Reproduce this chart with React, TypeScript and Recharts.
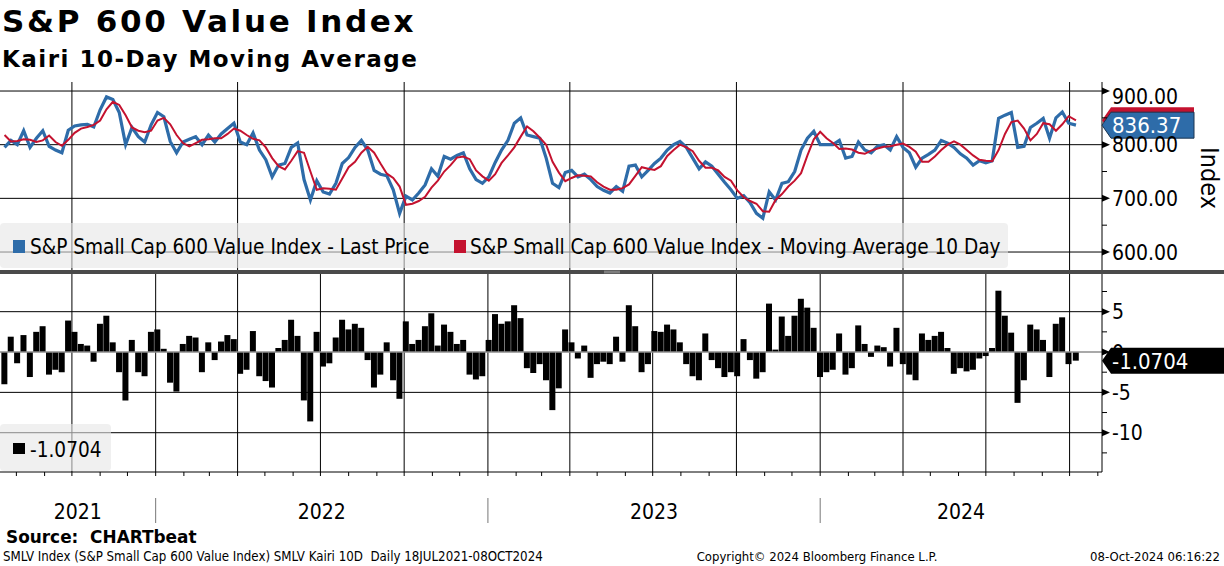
import React from 'react'
import {
  LineChart,
  Line,
  ComposedChart,
  Bar,
  XAxis,
  YAxis,
  CartesianGrid,
  ReferenceLine,
  ReferenceDot,
} from 'recharts'

const FONT = "'DejaVu Sans Condensed', 'Liberation Sans', Arial, sans-serif"
const TITLE_FONT = "'DejaVu Sans', Verdana, sans-serif"

const DAY = 86400000
const X0 = Date.UTC(2021, 6, 14)
const X1 = X0 + 1210.6 * DAY

// weekly samples, 19 Jul 2021 .. 08 Oct 2024
const prices = [
  795, 808, 800, 826, 795, 812, 826, 797, 790, 785,
  827, 835, 837, 838, 833, 865, 889, 884, 860, 800,
  832, 815, 805, 837, 860, 852, 806, 785, 805, 810,
  815, 800, 818, 805, 820, 830, 840, 805, 800, 822,
  790, 772, 740, 762, 765, 795, 803, 735, 697, 733,
  712, 708, 728, 765, 776, 795, 808, 790, 752, 745,
  742, 716, 672, 704, 697, 710, 725, 755, 741, 778,
  773, 780, 785, 755, 735, 728, 740, 767, 790, 808,
  840, 850, 818, 815, 812, 775, 728, 720, 748, 752,
  740, 745, 735, 722, 715, 710, 722, 713, 760, 762,
  740, 752, 765, 775, 790, 800, 806, 795, 775, 755,
  768, 760, 745, 730, 716, 700, 705, 692, 672, 663,
  712, 697, 728, 731, 750, 790, 812, 825, 800, 800,
  800, 808, 775, 778, 805, 790, 785, 797, 800, 790,
  815, 795, 785, 758, 775, 782, 790, 808, 803, 795,
  783, 775, 762, 770, 766, 770, 849, 855, 860, 795,
  797, 832, 840, 849, 812, 850, 861, 840, 836.37,
]

const movingAvg = [
  818, 806, 807, 810, 809, 805, 808, 817, 805, 798,
  809, 822, 830, 833, 837, 845, 866, 880, 874, 855,
  832, 826, 823, 826, 845, 850, 838, 818, 803, 797,
  803, 809, 810, 812, 812, 820, 830, 826, 818, 811,
  808, 795, 775, 760, 754, 770, 788, 785, 750, 716,
  719, 718, 716, 737, 758, 768, 785, 796, 785, 765,
  746, 738, 722, 688, 690, 695, 703, 720, 733, 750,
  762, 776, 778, 773, 752, 741, 733, 745, 766, 780,
  795, 815, 834, 825, 813, 800, 768, 748, 732, 738,
  743, 742, 741, 730, 722, 716, 716, 719, 726, 742,
  758, 755, 753, 760, 779, 790, 800, 795, 788, 770,
  757, 757, 752, 740, 733, 715, 702, 695, 690, 676,
  675, 697, 708, 722, 733, 747, 780, 810, 824, 812,
  803, 792, 793, 791, 785, 783, 789, 793, 796, 797,
  800, 802, 796, 787, 768, 768, 778, 790, 800, 806,
  800, 790, 780, 772, 770, 769, 790, 820, 842, 845,
  830, 808, 820, 840, 838, 826, 838, 853, 845.4,
]

const kairi = [
  -4, 1.9, -1.4, 2.1, -3.1, 2.5, 3.2, -2.8, -2.2, -2.5,
  3.9, 2.5, 1, 0.8, -1.2, 3.5, 4.5, 1.2, -2.5, -6,
  1.5, -2.5, -3, 2.5, 2.8, 0.4, -3.8, -4.9, 1, 2,
  1.8, -2.5, 1.2, -1, 1.3, 2.1, 1.6, -2.7, -2.2, 2.6,
  -3, -3.6, -4.4, 0.5, 1.5, 4, 2, -6, -8.6, 2.5,
  -1.8, -1.4, 1.8, 4, 2.8, 3.5, 3, -1, -4.4, -2.8,
  1.2, -3.5, -5.8, 3.8, 1, 1.5, 3.2, 4.8, 0.8, 3.4,
  2.5, 1, 1.5, -2.8, -3.4, -3, 1.5, 4.7, 3.5, 3.8,
  5.8, 4.2, -2, -2.6, -1.5, -3.5, -7.2, -4.5, 2.8, 1.2,
  -0.8, 0.8, -3.2, -1.5, -1.2, -1.5, 1.9, -1.2, 5.8, 3.2,
  -2.5, -1.5, 2.6, 2.5, 3.4, 2.8, 1.2, -1.5, -3, -3.5,
  2.3, -1, -2, -3.1, -2.5, -3, 1.6, -1, -3.3, -2.5,
  6, 0.3, 4.4, 2, 4.5, 6.6, 5.5, 3, -3.1, -2.5,
  -2.2, 2.3, -2.8, -2, 3.3, 1, -0.6, 0.8, 0.6, -1.8,
  3, -1.5, -2.8, -3.5, 2.3, 1.5, 2, 2.5, 0.5, -2.7,
  -2, -2.4, -2.2, -0.8, -0.5, 0.5, 7.6, 4.5, 2.4, -6.3,
  -3.5, 3.4, 2.8, 1.5, -3.1, 3.5, 4.3, -1.5, -1.0704,
]

const yearLabels = ['2021', '2022', '2023', '2024']
const priceTicks = [600, 650, 700, 750, 800, 850, 900]
const priceGrid = [600, 700, 800, 900]
const kairiTicks = [7.5, 5, 2.5, 0, -2.5, -5, -7.5, -10, -12.5]
const kairiGrid = [5, -5, -10]

const lastPrice = 836.37
const lastMa = 845.4
const lastKairi = -1.0704

const firstWeek = Date.UTC(2021, 6, 19)
const lastDay = Date.UTC(2024, 9, 8)
const dates = prices.map((_, i) => (i === prices.length - 1 ? lastDay : firstWeek + i * 7 * DAY))

const rows = dates.map((t, i) => ({ t, price: prices[i], ma: movingAvg[i], kairi: kairi[i] }))

const monthTicks: number[] = []
for (let m = 7; m <= 46; m++) monthTicks.push(Date.UTC(2021, m, 1))
const quarterTicks = monthTicks.filter((t) => new Date(t).getUTCMonth() % 3 === 0)

const yearStarts = [2022, 2023, 2024].map((y) => Date.UTC(y, 0, 1))
const yearBounds = [X0, ...yearStarts, X1]
const yearMids = yearLabels.map((_, i) => (yearBounds[i] + yearBounds[i + 1]) / 2)

const BLUE = '#2e6ca9'
const RED = '#c4122f'

const PriceTick = ({ x, y, payload }: any) => {
  const v = payload.value
  if (v % 100 !== 0) return <line x1={x} y1={y} x2={x + 5} y2={y} stroke="#000" />
  return (
    <g>
      <path d={`M${x},${y - 3.5}L${x + 8},${y}L${x},${y + 3.5}Z`} fill="#000" />
      <text x={x + 10} y={y + (v === 900 ? 5 : 0)} dy="0.36em" fontSize={21} fontFamily={FONT} fill="#000">
        {v.toFixed(2)}
      </text>
    </g>
  )
}

const KairiTick = ({ x, y, payload }: any) => {
  const v = payload.value
  if (!Number.isInteger(v)) return <line x1={x} y1={y} x2={x + 5} y2={y} stroke="#000" />
  return (
    <g>
      <path d={`M${x},${y - 3.5}L${x + 8},${y}L${x},${y + 3.5}Z`} fill="#000" />
      <text x={x + 10} y={y} dy="0.36em" fontSize={21} fontFamily={FONT} fill="#000">
        {v}
      </text>
    </g>
  )
}

const MonthTick = ({ x, y }: any) => <line x1={x} y1={y} x2={x} y2={y + 4} stroke="#000" />

const YearTick = ({ x, y, payload }: any) => {
  const v = payload.value
  const idx = yearMids.findIndex((m) => Math.abs(m - v) < DAY)
  if (idx < 0) return <line x1={x} y1={y + 21} x2={x} y2={y + 46} stroke="#777" />
  return (
    <text x={x} y={y + 42} textAnchor="middle" fontSize={21} fontFamily={FONT} fill="#000">
      {yearLabels[idx]}
    </text>
  )
}

const badge = (fill: string, text: string, width: number, stroke?: string) => (p: any) => {
  const { cx, cy } = p
  const h = 13
  return (
    <g>
      <path
        d={`M${cx},${cy}L${cx + 9},${cy - h}L${cx + width},${cy - h}L${cx + width},${cy + h}L${cx + 9},${cy + h}Z`}
        fill={fill}
        stroke={stroke || 'none'}
      />
      {text ? (
        <text x={cx + 10} y={cy} dy="0.36em" fontSize={22} fill="#fff" fontFamily={FONT}>
          {text}
        </text>
      ) : null}
    </g>
  )
}

export default function App() {
  return (
    <div style={{ position: 'absolute', left: 0, top: 0, width: 1224, height: 566, background: '#fff', fontFamily: FONT }}>
      <div style={{ position: 'absolute', left: 0, top: 82 }}>
        <LineChart width={1224} height={188} data={rows} margin={{ top: 0, right: 0, bottom: 0, left: 0 }}>
          <CartesianGrid stroke="#000" horizontalValues={priceGrid} verticalValues={quarterTicks} />
          <XAxis dataKey="t" type="number" domain={[X0, X1]} allowDataOverflow hide />
          <YAxis
            orientation="right"
            width={122}
            domain={[566.5, 916.8]}
            allowDataOverflow
            ticks={priceTicks}
            interval={0}
            tick={<PriceTick />}
            tickLine={false}
            tickSize={0}
            tickMargin={0}
            axisLine={{ stroke: '#000' }}
          />
          <Line dataKey="price" type="linear" stroke={BLUE} strokeWidth={3.2} dot={false} isAnimationActive={false} />
          <Line dataKey="ma" type="linear" stroke={RED} strokeWidth={2} dot={false} isAnimationActive={false} />
          <ReferenceDot x={X1} y={lastMa} r={0} ifOverflow="visible" shape={badge(RED, '', 92)} />
          <ReferenceDot
            x={X1}
            y={lastPrice}
            r={0}
            ifOverflow="visible"
            shape={badge(BLUE, lastPrice.toFixed(2), 92, '#1b3550')}
          />
        </LineChart>
      </div>

      <div style={{ position: 'absolute', left: 0, top: 274 }}>
        <ComposedChart width={1224} height={253} data={rows} margin={{ top: 0, right: 0, bottom: 0, left: 0 }}>
          <CartesianGrid stroke="#000" horizontalValues={kairiGrid} verticalValues={quarterTicks} />
          <XAxis
            dataKey="t"
            type="number"
            domain={[X0, X1]}
            allowDataOverflow
            ticks={monthTicks}
            interval={0}
            tick={<MonthTick />}
            tickLine={false}
            tickSize={0}
            tickMargin={0}
            height={5}
            axisLine={{ stroke: '#000' }}
          />
          <XAxis
            xAxisId="yr"
            dataKey="t"
            type="number"
            domain={[X0, X1]}
            allowDataOverflow
            ticks={[...yearStarts, ...yearMids]}
            interval={0}
            tick={<YearTick />}
            tickLine={false}
            tickSize={0}
            tickMargin={0}
            axisLine={false}
            height={50}
          />
          <YAxis
            orientation="right"
            width={122}
            domain={[-14.87, 9.67]}
            allowDataOverflow
            ticks={kairiTicks}
            interval={0}
            tick={<KairiTick />}
            tickLine={false}
            tickSize={0}
            tickMargin={0}
            axisLine={{ stroke: '#000' }}
          />
          <ReferenceLine y={0} stroke="#8c8c8c" strokeWidth={1.5} />
          <Bar dataKey="kairi" fill="#000" barSize={6} isAnimationActive={false} />
          <Line
            xAxisId="yr"
            dataKey="kairi"
            stroke="none"
            dot={false}
            activeDot={false}
            legendType="none"
            isAnimationActive={false}
          />
          <ReferenceDot x={X1} y={lastKairi} r={0} ifOverflow="visible" shape={badge('#000', lastKairi.toFixed(4), 122)} />
        </ComposedChart>
      </div>

      <svg width={1224} height={566} style={{ position: 'absolute', left: 0, top: 0, pointerEvents: 'none' }}>
        <text x={2} y={32} fontFamily={TITLE_FONT} fontWeight="bold" fontSize={31} letterSpacing={2.7} fill="#000">
          S&amp;P 600 Value Index
        </text>
        <text x={2} y={67} fontFamily={TITLE_FONT} fontWeight="bold" fontSize={23} letterSpacing={1.5} fill="#000">
          Kairi 10-Day Moving Average
        </text>

        <rect x={0} y={223} width={1008} height={45} rx={4} fill="rgba(230,230,230,0.6)" />
        <rect x={13} y={240} width={12} height={13} fill={BLUE} />
        <text x={30} y={254} fontSize={20.6} fontFamily={FONT} fill="#000">
          S&amp;P Small Cap 600 Value Index - Last Price
        </text>
        <rect x={454} y={240} width={12} height={13} fill={RED} />
        <text x={470} y={254} fontSize={20.6} fontFamily={FONT} fill="#000">
          S&amp;P Small Cap 600 Value Index - Moving Average 10 Day
        </text>

        <rect x={0} y={270} width={1224} height={4} fill="#4a4a4a" />
        <line x1={604} y1={271.2} x2={620} y2={271.2} stroke="#aaa" strokeWidth={0.8} />
        <line x1={604} y1={272.8} x2={620} y2={272.8} stroke="#aaa" strokeWidth={0.8} />

        <rect x={0} y={424} width={111} height={47} rx={4} fill="rgba(230,230,230,0.6)" />
        <rect x={13} y={443} width={12} height={11} fill="#000" />
        <text x={30} y={457} fontSize={20.6} fontFamily={FONT} fill="#000">
          {lastKairi.toFixed(4)}
        </text>

        <text transform="translate(1201,178) rotate(90)" textAnchor="middle" fontSize={25} fontFamily={FONT} fill="#000">
          Index
        </text>

        <text x={6} y={543} fontFamily={TITLE_FONT} fontWeight="bold" fontSize={16.9} fill="#000">
          {'Source:\u00a0 CHARTbeat'}
        </text>
        <text x={3} y={561} fontSize={13.2} fontFamily={FONT} fill="#000">
          {'SMLV Index (S&P Small Cap 600 Value Index) SMLV Kairi 10D\u00a0 Daily 18JUL2021-08OCT2024'}
        </text>
        <text x={817} y={561} textAnchor="middle" fontSize={13} fontFamily={FONT} fill="#000">
          Copyright© 2024 Bloomberg Finance L.P.
        </text>
        <text x={1220} y={561} textAnchor="end" fontSize={13} fontFamily={FONT} fill="#000">
          08-Oct-2024 06:16:22
        </text>
      </svg>
    </div>
  )
}
